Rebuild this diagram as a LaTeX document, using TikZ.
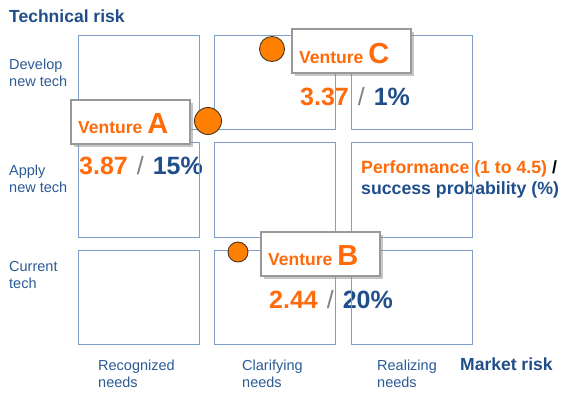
\documentclass[tikz,border=0pt]{standalone}
\usepackage{fontspec}
\setmainfont{Liberation Sans}
\usetikzlibrary{shadows}
\definecolor{gridblue}{HTML}{7F9EC8}
\definecolor{darkblue}{HTML}{1F4E8A}
\definecolor{labelblue}{HTML}{2B5A95}
\definecolor{vorange}{HTML}{FF6A0A}
\definecolor{dotorange}{HTML}{FF8000}
\definecolor{dotline}{HTML}{4A3520}
\definecolor{slashgray}{HTML}{808080}
\newcommand{\valslash}{\textcolor{slashgray}{\hspace{9bp}\mdseries /\hspace{9bp}}}
\begin{document}
\begin{tikzpicture}[x=1bp,y=-1bp,
  axislabel/.style={anchor=base west,inner sep=0pt,text=darkblue,font=\fontsize{17.5bp}{20bp}\selectfont\bfseries},
  rowlabel/.style={anchor=base west,inner sep=0pt,text=labelblue,align=left,font=\fontsize{14.5bp}{17bp}\selectfont},
  cell/.style={draw=gridblue,line width=0.9bp},
  vbox/.style={draw=gray!80,line width=1.3bp,fill=white,minimum width=119bp,minimum height=44bp,inner sep=0pt,
     drop shadow={shadow xshift=2.5bp,shadow yshift=-2.5bp,opacity=0.45,fill=gray}},
  vname/.style={anchor=base west,inner sep=0pt,text=vorange,font=\fontsize{17.5bp}{20bp}\selectfont\bfseries},
  value/.style={anchor=base west,inner sep=0pt,font=\fontsize{25bp}{28bp}\selectfont\bfseries},
  dot/.style={circle,draw=dotline,line width=0.9bp,fill=dotorange,inner sep=0pt},
  legend/.style={anchor=base west,inner sep=0pt,align=left,font=\fontsize{17.7bp}{21bp}\selectfont\bfseries}
]
\useasboundingbox (0,0) rectangle (570,394);
% axis labels
\node[axislabel] (trisk) at (9,22) {Technical risk};
\node[axislabel] (mrisk) at (460,370) {Market risk};
\node[rowlabel] (r1) at (9,86) {Develop\\new tech};
\node[rowlabel] (r2) at (9,192.5) {Apply\\new tech};
\node[rowlabel] (r3) at (9,288) {Current\\tech};
\node[rowlabel] (c1) at (98,387) {Recognized\\needs};
\node[rowlabel] (c2) at (242,387) {Clarifying\\needs};
\node[rowlabel] (c3) at (377,387) {Realizing\\needs};
% values
\node[value] (va) at (79,174) {\textcolor{vorange}{3.87}\valslash\textcolor{darkblue}{15\%}};
\node[value] (vc) at (300,105) {\textcolor{vorange}{3.37}\valslash\textcolor{darkblue}{1\%}};
\node[value] (vb) at (269,308) {\textcolor{vorange}{2.44}\valslash\textcolor{darkblue}{20\%}};
\node[legend] (leg) at (361,194) {\textcolor{vorange}{Performance (1 to 4.5)} /\\\textcolor{darkblue}{success probability (\%)}};
% grid
\foreach \xa/\xb in {78/199,214/335,351/472}
  \foreach \ya/\yb in {35/129,142/237,250/344}
    \draw[cell] (\xa,\ya) rectangle (\xb,\yb);
% venture boxes
\node[vbox] (ba) at (130.5,122) {};
\node[vbox] (bc) at (351.5,51) {};
\node[vbox] (bb) at (320.5,254) {};
\node[vname] (na) at (78,133) {Venture \fontsize{29bp}{30bp}\selectfont A};
\node[vname] (nc) at (299,63) {Venture \fontsize{29bp}{30bp}\selectfont C};
\node[vname] (nb) at (268,265) {Venture \fontsize{29bp}{30bp}\selectfont B};
% dots
\node[dot,minimum size=27bp] (da) at (208,121) {};
\node[dot,minimum size=25bp] (dc) at (272,49) {};
\node[dot,minimum size=20bp] (db) at (238,252) {};
\end{tikzpicture}
\end{document}
